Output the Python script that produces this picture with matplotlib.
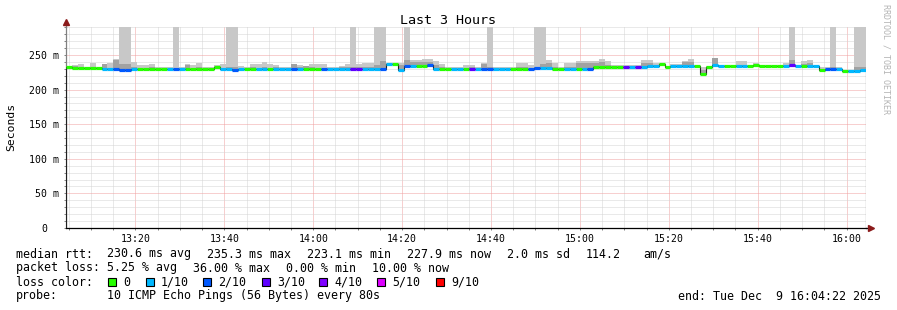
import matplotlib
matplotlib.use('Agg')
import matplotlib.pyplot as plt
import numpy as np
from matplotlib.patches import Rectangle
from matplotlib.transforms import ScaledTranslation

plt.rcParams['font.family'] = ['DejaVu Sans Mono', 'DejaVu Sans']
plt.rcParams['lines.scale_dashes'] = False

# ---------------- data ----------------
STEP = 80                      # seconds per sample
START = 13 * 3600 + 4 * 60 + 22  # 13:04:22
SPAN = 3 * 3600

# median rtt per step (ms)
median = [232, 231, 231, 231, 231, 231, 230, 230, 230, 229,
          229, 230, 230, 230, 230, 230, 230, 230, 229.5, 230,
          230, 230, 230, 230, 230, 232, 230, 230, 229, 230,
          230, 230, 230, 230, 230, 230, 230, 230, 229.5, 230,
          230, 230, 230, 229.5, 230, 230, 230, 230, 230, 230,
          230, 230, 230, 229.5, 237, 237, 228, 234, 234, 234,
          234, 235, 230, 230, 230, 230, 230, 230, 230, 230,
          230, 230, 230, 230, 230, 230, 230, 230, 230, 231,
          231, 231, 230, 230, 230, 230, 230, 230, 230, 232,
          232, 232, 232, 232, 232, 232, 232, 232, 234.5, 234.5,
          237, 232, 234, 234, 234, 234, 234, 223, 233, 236,
          234, 234, 234, 234, 234, 234, 236, 234, 234, 234,
          234, 234, 236, 234, 234, 234, 234, 228, 230, 230,
          230, 227, 227, 227, 229]

# lost pings out of 10 per step
loss = [0, 0, 0, 0, 0, 0, 1, 1, 2, 2,
        2, 1, 0, 0, 0, 0, 0, 1, 2, 1,
        0, 0, 0, 0, 0, 0, 1, 1, 2, 1,
        0, 0, 1, 1, 0, 1, 1, 1, 2, 1,
        0, 0, 0, 2, 1, 1, 1, 1, 3, 3,
        1, 1, 1, 2, 1, 0, 1, 2, 1, 0,
        0, 2, 1, 0, 0, 1, 1, 0, 3, 1,
        2, 2, 1, 1, 1, 0, 0, 0, 2, 2,
        1, 1, 0, 0, 1, 1, 0, 1, 2, 0,
        0, 0, 0, 0, 3, 1, 3, 1, 1, 1,
        0, 0, 1, 1, 1, 1, 0, 0, 0, 1,
        1, 0, 0, 1, 1, 0, 0, 0, 0, 0,
        0, 1, 3, 1, 0, 1, 1, 0, 2, 2,
        1, 0, 1, 1, 1]

# smoke: maximum ping per step (ms)
smoke_hi = [233, 235.5, 237, 233, 238, 233, 237, 238, 244, 300,
            300, 240, 235, 235, 237, 233, 233, 232, 300, 233,
            237, 235, 238, 233, 233, 235, 237, 300, 300, 234,
            233, 237, 237, 240, 237, 236, 233, 233, 237, 235,
            234, 237, 237, 237, 232, 233, 234, 237, 300, 237,
            238, 238, 300, 300, 239, 239, 238, 300, 243, 243,
            244, 244, 241, 237, 233, 233, 233, 235.5, 236, 232,
            238, 300, 232, 233, 233, 233, 238, 238, 235.5, 300,
            300, 243, 238, 233, 238, 238, 242, 242, 242, 242,
            244, 241, 235, 235, 235, 235, 235, 243, 243, 238,
            239, 234, 237, 237, 241, 244, 236, 233, 234, 245.5,
            236, 236, 236, 241, 241, 236, 238, 236, 236, 236,
            236, 238, 300, 236, 241, 243, 236, 232, 232, 300,
            232, 229, 229, 300, 300]

# smoke: inner (darker) band top per step (ms)
smoke_mid = [232, 234, 231, 231, 233, 231, 237, 231, 243, 237,
             237, 232, 230, 230, 232, 230, 230, 230, 230, 230,
             236, 230, 232, 230, 230, 232, 230, 232, 232, 230,
             230, 232, 230, 232, 230, 232, 230, 230, 237, 232,
             234, 232, 230, 230, 230, 230, 232, 232, 232, 232,
             232, 232, 236, 242, 237, 237, 236, 243, 240, 240,
             240, 240, 236, 232, 230, 230, 230, 230, 232, 230,
             237, 232, 230, 230, 230, 230, 232, 232, 230, 232,
             237, 238, 232, 230, 232, 232, 238, 238, 238, 238,
             240, 236, 232, 232, 232, 232, 232, 238, 238, 236,
             237, 232, 234, 234, 240, 240, 234, 228, 233, 245,
             234, 234, 234, 236, 236, 234, 236, 234, 234, 234,
             234, 235, 243, 234, 237, 238, 234, 228, 230, 232,
             230, 227, 227, 232, 232]

loss_labels = ["0", "1/10", "2/10", "3/10", "4/10", "5/10", "9/10"]
loss_levels = [0, 1, 2, 3, 4, 5, 9]
loss_colors = ["#26ff00", "#00b8ff", "#0059ff", "#5e00ff", "#7e00ff", "#dd00ff", "#ff0000"]

time_labels = ["13:20", "13:40", "14:00", "14:20", "14:40", "15:00", "15:20", "15:40", "16:00"]
y_ticks_ms = [0, 50, 100, 150, 200, 250]
y_tick_labels = ["0", "50 m", "100 m", "150 m", "200 m", "250 m"]

# ---------------- figure ----------------
W, H, DPI = 897, 310, 100
fig = plt.figure(figsize=(W / DPI, H / DPI), dpi=DPI)
fig.patch.set_facecolor('white')

def fx(x):
    return x / W

def fy(y):
    return 1 - y / H

YTOP = 290
ax = fig.add_axes([fx(66), fy(228), (866 - 66) / W, (0.692 * YTOP) / H])
ax.set_xlim(0, SPAN)
ax.set_ylim(0, YTOP)

n = len(median)
edges = np.arange(n + 1) * STEP
med = np.array(median, dtype=float)
hi = np.array(smoke_hi, dtype=float)
mid = np.array(smoke_mid, dtype=float)
ls_ = np.array(loss)

# smoke
ax.stairs(hi, edges, baseline=med, fill=True, color='#c8c8c8', lw=0, zorder=2)
ax.stairs(mid, edges, baseline=med, fill=True, color='#a2a2a2', lw=0, zorder=3)

# median line (black connector) + loss-coloured segments
ax.stairs(med, edges, color='#202020', lw=0.8, zorder=4)
for lvl, col in zip(loss_levels, loss_colors):
    m = ls_ == lvl
    if m.any():
        ax.hlines(med[m], edges[:-1][m], edges[1:][m], colors=col, lw=2.3,
                  zorder=5, capstyle='butt')

# grid
first_major = (START // 1200 + 1) * 1200
majors = np.arange(first_major, START + SPAN, 1200) - START
first_minor = (START // 300 + 1) * 300
minors = np.arange(first_minor, START + SPAN, 300) - START
ax.set_xticks(majors[:len(time_labels)])
ax.set_xticklabels(time_labels)
ax.set_xticks(minors, minor=True)
ax.set_yticks(y_ticks_ms)
ax.set_yticklabels(y_tick_labels)
ax.set_yticks(np.arange(10, YTOP + 1, 10), minor=True)

ax.set_axisbelow(True)
ax.grid(which='minor', color='#d4d4d4', lw=0.72, ls=(0, (0.72, 0.72)))
ax.grid(which='major', color='#f0a0a0', lw=0.72, ls=(0, (0.72, 0.72)))

ax.tick_params(axis='both', which='both', direction='out', length=1.5, width=0.7,
               color='#808080', labelsize=7.1, labelcolor='black')
ax.tick_params(axis='y', which='major', pad=3.4)
ax.tick_params(axis='x', which='major', pad=2.5)

# shift the "0" label so the digits line up with the others
lab0 = ax.get_yticklabels()[0]
lab0.set_transform(lab0.get_transform() + ScaledTranslation(-12 / DPI, 0, fig.dpi_scale_trans))

for s in ['top', 'right']:
    ax.spines[s].set_visible(False)
ax.spines['left'].set_color('#808080')
ax.spines['left'].set_linewidth(0.9)
ax.spines['bottom'].set_color('#000000')
ax.spines['bottom'].set_linewidth(0.9)

# axis extensions and arrows
ax.plot([0, 0], [1, 1.02], transform=ax.transAxes, color='#808080', lw=0.9, clip_on=False)
ax.plot([1, 1.004], [0, 0], transform=ax.transAxes, color='#000000', lw=0.9, clip_on=False)
ax.plot([0], [1.025], marker='^', ms=4, color='#8b1a1a', transform=ax.transAxes, clip_on=False)
ax.plot([1.006], [0], marker='>', ms=4, color='#8b1a1a', transform=ax.transAxes, clip_on=False)

# texts
fig.text(fx(448), fy(20), 'Last 3 Hours', ha='center', va='center', fontsize=9.6)
fig.text(fx(11), fy(127), 'Seconds', rotation=90, ha='center', va='center', fontsize=8.2)
fig.text(fx(886), fy(4), 'RRDTOOL / TOBI OETIKER', rotation=270, ha='center', va='top',
         fontsize=6.0, color='#b4b4b4')

FS = 8.4
line1 = [(16, 'median rtt:'), (107, '230.6 ms avg'), (207, '235.3 ms max'),
         (307, '223.1 ms min'), (407, '227.9 ms now'), (507, '2.0 ms sd'),
         (586, '114.2'), (643, 'am/s')]
line2 = [(16, 'packet loss:'), (107, '5.25 % avg'), (193, '36.00 % max'),
         (286, '0.00 % min'), (372, '10.00 % now')]
for xx, t in line1:
    fig.text(fx(xx), fy(254), t, ha='left', va='center', fontsize=FS)
for xx, t in line2:
    fig.text(fx(xx), fy(268), t, ha='left', va='center', fontsize=FS)

fig.text(fx(16), fy(282), 'loss color:', ha='left', va='center', fontsize=FS)
box_x = [108, 146, 203, 262, 319, 377, 436]
for bx, lab, col in zip(box_x, loss_labels, loss_colors):
    fig.patches.append(Rectangle((fx(bx), fy(286)), 8 / W, 8 / H, transform=fig.transFigure,
                                 facecolor=col, edgecolor='black', lw=0.8))
    fig.text(fx(bx + 15), fy(282), lab, ha='left', va='center', fontsize=FS)

fig.text(fx(16), fy(296), 'probe:', ha='left', va='center', fontsize=FS)
fig.text(fx(107), fy(296), '10 ICMP Echo Pings (56 Bytes) every 80s', ha='left', va='center', fontsize=FS)
fig.text(fx(881), fy(296), 'end: Tue Dec  9 16:04:22 2025', ha='right', va='center', fontsize=FS)

fig.savefig('out.png', dpi=DPI, facecolor='white')
